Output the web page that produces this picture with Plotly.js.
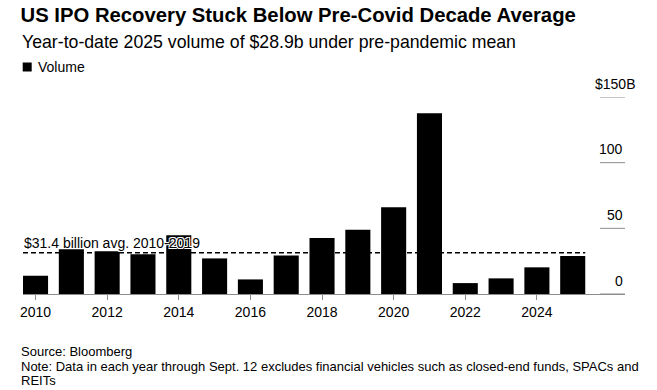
<!DOCTYPE html>
<html>
<head>
<meta charset="utf-8">
<script src="https://cdn.plot.ly/plotly-3.0.1.min.js"></script>
<style>html,body{margin:0;padding:0;background:#fff;}#chart{width:657px;height:390px;}</style>
</head>
<body>
<div id="chart"></div>
<script>
// ---- data ----
const years = [2010, 2011, 2012, 2013, 2014, 2015, 2016, 2017, 2018, 2019, 2020, 2021, 2022, 2023, 2024, 2025];
const volume = [13.9, 34.0, 32.5, 30.2, 44.8, 27.1, 11.1, 29.4, 42.6, 48.9, 66.0, 137.6, 8.3, 11.9, 20.3, 28.9];
const avgValue = 31.4;
const avgLabel = "$31.4 billion avg. 2010-2019";
const xTickVals = [2010, 2012, 2014, 2016, 2018, 2020, 2022, 2024];
const xTickText = ["2010", "2012", "2014", "2016", "2018", "2020", "2022", "2024"];
const yTickVals = [0, 50, 100, 150];
const yTickText = ["0", "50", "100", "$150B"];
const seriesName = "Volume";
const titleText = "US IPO Recovery Stuck Below Pre-Covid Decade Average";
const subtitleText = "Year-to-date 2025 volume of $28.9b under pre-pandemic mean";
const sourceText = "Source: Bloomberg";
const noteLines = ["Note: Data in each year through Sept. 12 excludes financial vehicles such as closed-end funds, SPACs and", "REITs"];

// ---- layout helpers ----
const W = 657, H = 390;
const M = {l: 23, r: 32, t: 97, b: 96};
const PW = W - M.l - M.r, PH = H - M.t - M.b;
const px = x => (x - M.l) / PW;          // container px -> paper x
const py = y => (H - M.b - y) / PH;      // container px -> paper y
const SANS = "Liberation Sans, Arial, Helvetica, sans-serif";
const barWidth = 0.7;
const xMin = years[0] - 0.35, xMax = years[years.length - 1] + 1.46;

const trace = {
  type: 'bar',
  x: years,
  y: volume,
  name: seriesName,
  width: barWidth,
  marker: {color: '#000000', line: {width: 0}},
  showlegend: false,
  hoverinfo: 'x+y'
};

const shapes = [];
const annotations = [];

// y gridline stubs on the right
yTickVals.forEach((v, i) => {
  shapes.push({type: 'line', xref: 'paper', yref: 'y', x0: px(600), x1: 1, y0: v, y1: v,
    line: {color: '#8c8c8c', width: 1}});
  const last = i === yTickVals.length - 1;
  annotations.push({xref: 'paper', yref: 'y', x: 1, y: v, text: yTickText[i],
    xanchor: 'right', yanchor: 'middle', yshift: 13.5, xshift: last ? 12 : 0, showarrow: false,
    font: {family: SANS, size: 14, color: '#000'}});
});

// average dashed line (ends at right edge of last bar)
shapes.push({type: 'line', xref: 'x', yref: 'y', x0: xMin,
  x1: years[years.length - 1] + barWidth / 2,
  y0: avgValue, y1: avgValue, line: {color: '#000', width: 1.5, dash: '5px,3px'}});
annotations.push({xref: 'paper', yref: 'y', x: 0, y: avgValue, text: avgLabel,
  xanchor: 'left', yanchor: 'middle', yshift: 9.5, xshift: -1, showarrow: false,
  font: {family: SANS, size: 14, color: '#000',
    shadow: '1px 1px 0 #fff, -1px -1px 0 #fff, 1px -1px 0 #fff, -1px 1px 0 #fff'}});

// legend
shapes.push({type: 'rect', xref: 'paper', yref: 'paper', x0: px(22.7), x1: px(31.7), y0: py(71.5), y1: py(62.5),
  fillcolor: '#000', line: {width: 0}});
annotations.push({xref: 'paper', yref: 'paper', x: px(36), y: py(67), text: seriesName,
  xanchor: 'left', yanchor: 'middle', showarrow: false, font: {family: SANS, size: 14, color: '#000'}});

// subtitle
annotations.push({xref: 'paper', yref: 'paper', x: px(20), y: py(42), text: subtitleText,
  xanchor: 'left', yanchor: 'middle', showarrow: false, font: {family: SANS, size: 17.7, color: '#000'}});

// footer
annotations.push({xref: 'paper', yref: 'paper', x: px(19), y: py(351.2), text: sourceText,
  xanchor: 'left', yanchor: 'middle', showarrow: false, font: {family: SANS, size: 13, color: '#000'}});
annotations.push({xref: 'paper', yref: 'paper', x: px(19), y: py(366), text: noteLines[0],
  xanchor: 'left', yanchor: 'middle', showarrow: false, font: {family: SANS, size: 13, color: '#000'}});
annotations.push({xref: 'paper', yref: 'paper', x: px(19), y: py(380.3), text: noteLines[1],
  xanchor: 'left', yanchor: 'middle', showarrow: false, font: {family: SANS, size: 13, color: '#000'}});

const layout = {
  width: W, height: H,
  margin: M,
  paper_bgcolor: '#fff', plot_bgcolor: '#fff',
  title: {text: '<b>' + titleText + '</b>', xref: 'container', yref: 'container',
    x: 20.5 / W, xanchor: 'left', y: 1 - 15 / H, yanchor: 'middle',
    font: {family: SANS, size: 20.3, color: '#000'}},
  xaxis: {
    range: [xMin, xMax],
    tickvals: xTickVals, ticktext: xTickText,
    showgrid: false, zeroline: false,
    showline: true, linecolor: '#8c8c8c', linewidth: 1,
    ticks: 'outside', ticklen: 5, tickcolor: '#8c8c8c', tickwidth: 1,
    tickfont: {family: SANS, size: 14, color: '#000'},
    fixedrange: true
  },
  yaxis: {
    range: [0, 150],
    showgrid: false, zeroline: false, showline: false,
    showticklabels: false, ticks: '',
    fixedrange: true
  },
  shapes: shapes,
  annotations: annotations,
  showlegend: false
};

Plotly.newPlot('chart', [trace], layout, {displayModeBar: false, staticPlot: true});
</script>
</body>
</html>
